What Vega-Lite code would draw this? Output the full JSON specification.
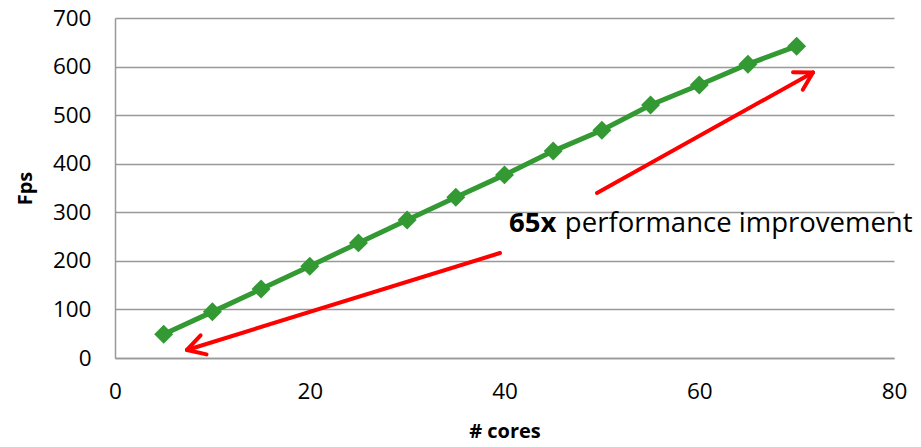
{
  "$schema": "https://vega.github.io/schema/vega-lite/v6.json",
  "autosize": {"type": "none"},
  "padding": {"left": 115, "top": 18, "right": 28, "bottom": 89},
  "width": 779,
  "height": 340,
  "background": "white",
  "config": {
    "view": {"stroke": null},
    "font": "Open Sans",
    "axis": {
      "labelFont": "Open Sans",
      "labelFontSize": 22.5,
      "labelColor": "#000000",
      "labelFlush": false,
      "titleFont": "Open Sans",
      "titleFontSize": 20,
      "titleFontWeight": "bold",
      "titleColor": "#000000",
      "ticks": false,
      "domainColor": "#999999",
      "domainWidth": 1.5,
      "gridColor": "#999999",
      "gridWidth": 1.5
    }
  },
  "datasets": {
    "fps": [
      {"cores": 5, "fps": 49},
      {"cores": 10, "fps": 95},
      {"cores": 15, "fps": 142},
      {"cores": 20, "fps": 189},
      {"cores": 25, "fps": 237},
      {"cores": 30, "fps": 284},
      {"cores": 35, "fps": 331},
      {"cores": 40, "fps": 377},
      {"cores": 45, "fps": 426},
      {"cores": 50, "fps": 469},
      {"cores": 55, "fps": 521},
      {"cores": 60, "fps": 562},
      {"cores": 65, "fps": 605},
      {"cores": 70, "fps": 642}
    ],
    "arrows": [
      {"x1": 39.54, "y1": 216.2, "x2": 7.39, "y2": 16.5},
      {"x1": 7.39, "y1": 16.5, "x2": 9.40, "y2": 7.4},
      {"x1": 7.39, "y1": 16.5, "x2": 8.79, "y2": 46.7},
      {"x1": 49.50, "y1": 339.7, "x2": 71.68, "y2": 587.8},
      {"x1": 71.68, "y1": 587.8, "x2": 69.63, "y2": 588.2},
      {"x1": 71.68, "y1": 587.8, "x2": 70.63, "y2": 552.4}
    ],
    "boldnote": [
      {"label": "65x", "x": 40.46, "y": 259.4}
    ],
    "note": [
      {"label": "performance improvement", "x": 46.2, "y": 259.4}
    ]
  },
  "layer": [
    {
      "data": {"name": "fps"},
      "mark": {"type": "line", "color": "#339933", "strokeWidth": 5, "clip": false},
      "encoding": {
        "x": {
          "field": "cores", "type": "quantitative",
          "scale": {"domain": [0, 80], "nice": false},
          "axis": {"values": [0, 20, 40, 60, 80], "grid": false, "title": "# cores", "labelPadding": 22, "titlePadding": 19}
        },
        "y": {
          "field": "fps", "type": "quantitative",
          "scale": {"domain": [0, 700], "nice": false},
          "axis": {"values": [0, 100, 200, 300, 400, 500, 600, 700], "grid": true, "title": "Fps", "labelPadding": 24, "titlePadding": 17}
        }
      }
    },
    {
      "data": {"name": "fps"},
      "mark": {"type": "point", "shape": "diamond", "filled": true, "color": "#339933", "size": 360, "opacity": 1, "clip": false},
      "encoding": {
        "x": {"field": "cores", "type": "quantitative"},
        "y": {"field": "fps", "type": "quantitative"}
      }
    },
    {
      "data": {"name": "arrows"},
      "mark": {"type": "rule", "color": "#ff0000", "strokeWidth": 4, "strokeCap": "round", "clip": false},
      "encoding": {
        "x": {"field": "x1", "type": "quantitative"},
        "y": {"field": "y1", "type": "quantitative"},
        "x2": {"field": "x2"},
        "y2": {"field": "y2"}
      }
    },
    {
      "data": {"name": "boldnote"},
      "mark": {"type": "text", "align": "left", "baseline": "alphabetic", "fontSize": 27.5, "fontWeight": "bold", "font": "Open Sans", "color": "#000000", "clip": false},
      "encoding": {
        "x": {"field": "x", "type": "quantitative"},
        "y": {"field": "y", "type": "quantitative"},
        "text": {"field": "label"}
      }
    },
    {
      "data": {"name": "note"},
      "mark": {"type": "text", "align": "left", "baseline": "alphabetic", "fontSize": 27.5, "font": "Open Sans", "color": "#000000", "clip": false},
      "encoding": {
        "x": {"field": "x", "type": "quantitative"},
        "y": {"field": "y", "type": "quantitative"},
        "text": {"field": "label"}
      }
    }
  ]
}
